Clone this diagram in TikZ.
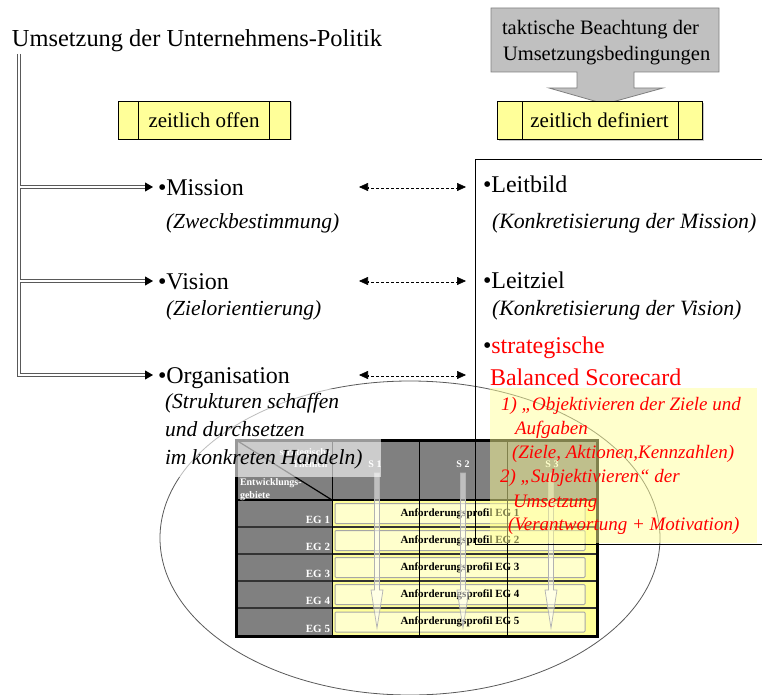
\documentclass[tikz,border=0pt]{standalone}
\usepackage{fontspec}
\setmainfont{Liberation Serif}
\usetikzlibrary{arrows.meta,calc,shadows}

\definecolor{boxyellow}{HTML}{FFFF99}
\definecolor{paleyellow}{HTML}{FFFFCC}
\definecolor{cellgray}{HTML}{808080}
\definecolor{calloutgray}{HTML}{C0C0C0}
\definecolor{scarlet}{HTML}{FF0000}
\newcommand{\fsz}[1]{\fontsize{#1}{#1}\selectfont}

\begin{document}
\begin{tikzpicture}[x=1pt,y=-1pt,
  every node/.style={inner sep=0pt, outer sep=0pt},
  txt/.style={anchor=base west, font=\fsz{24}, text height=16pt, text depth=0pt},
  note/.style={anchor=base west, font=\fsz{21.5}\itshape},
  rednote/.style={anchor=base west, font=\fsz{19}\itshape, text=scarlet},
  rail/.style={draw=black!65, line width=0.8pt},
  spine/.style={draw=black!65, line width=0.8pt, double=white, double distance=2.2pt},
  feedtip/.style={-{Triangle[length=8pt,width=9pt]}, line width=0.8pt},
  linkdash/.style={draw=black, line width=0.6pt, dash pattern=on 3pt off 2pt, double=white, double distance=1.8pt},
  linktip/.style={-{Triangle[length=9pt,width=8pt]}, line width=0.6pt},
  timebox/.style={draw=black, line width=0.8pt, fill=boxyellow, font=\fsz{21},
    minimum height=38pt, drop shadow={shadow xshift=1.5pt, shadow yshift=-1.5pt, fill=gray!45, opacity=1}},
  profbox/.style={draw=gray!70, line width=1pt, fill=paleyellow, rounded corners=1pt,
    minimum width=250pt, minimum height=20pt, font=\bfseries\fsz{11}},
  eglabel/.style={anchor=base east, text=white, font=\bfseries\fsz{11}},
  hdr/.style={anchor=base, text=white, font=\bfseries\fsz{10}},
  flowarrow/.style={draw=gray!60, fill=white, fill opacity=0.5, line width=0.7pt},
]
\useasboundingbox (0,0) rectangle (762,695);

% ---------- callout: tactical conditions
\draw[fill=calloutgray, draw=black!50, line width=0.8pt]
  (491,8) -- (719,8) -- (719,72) -- (634,72) -- (634,88) -- (663,88) -- (605,104)
  -- (549,88) -- (577,88) -- (577,72) -- (491,72) -- cycle;
\node[anchor=base west, font=\fsz{20.5}] (tact1) at (502,35) {taktische Beachtung der};
\node[anchor=base west, font=\fsz{20.5}] (tact2) at (503,61) {Umsetzungsbedingungen};

% ---------- time boxes
\node[timebox, minimum width=172pt] (offen) at (204,120) {zeitlich offen};
\draw[line width=0.8pt] ([xshift=20pt]offen.north west) -- ([xshift=20pt]offen.south west);
\draw[line width=0.8pt] ([xshift=-21pt]offen.north east) -- ([xshift=-21pt]offen.south east);
\node[timebox, minimum width=205pt] (definiert) at (599.5,120.5) {zeitlich definiert};
\draw[line width=0.8pt] ([xshift=25pt]definiert.north west) -- ([xshift=25pt]definiert.south west);
\draw[line width=0.8pt] ([xshift=-24pt]definiert.north east) -- ([xshift=-24pt]definiert.south east);

% ---------- left column
\node[txt, font=\fsz{24.4}] (title) at (12,47) {Umsetzung der Unternehmens-Politik};
\node[txt] (mission) at (158,195) {•Mission};
\node[note] (missionN) at (166,228) {(Zweckbestimmung)};
\node[txt] (vision) at (158,289) {•Vision};
\node[note] (visionN) at (166,315) {(Zielorientierung)};
\node[txt] (organisation) at (158,383) {•Organisation};

% spine: two parallel rails with branches
\coordinate (railA) at (17,54);
\coordinate (railB) at (20,54);
\draw[rail] (railA) -- ($(railA |- organisation.west)+(0,1.5)$) -- ($(organisation.west)+(-11,1.5)$);
\draw[rail] (railB) -- ($(railB |- mission.west)+(0,-1.5)$);
\foreach \n/\m in {mission/vision, vision/organisation}
  \draw[rail] ($(railB |- \n.west)+(0,1.5)$) -- ($(railB |- \m.west)+(0,-1.5)$);
\foreach \n in {mission,vision}
  \draw[rail] ($(railB |- \n.west)+(0,-1.5)$) -- ($(\n.west)+(-11,-1.5)$)
              ($(railB |- \n.west)+(0,1.5)$) -- ($(\n.west)+(-11,1.5)$);
\draw[rail] ($(railB |- organisation.west)+(0,-1.5)$) -- ($(organisation.west)+(-11,-1.5)$);
\foreach \n in {mission,vision,organisation}
  \draw[feedtip] ($(\n.west)+(-13,0)$) -- ($(\n.west)+(-5,0)$);

% ---------- right column texts
\node[txt] (leitbild) at (483,193) {•Leitbild};
\node[note, font=\fsz{21.8}\itshape] (leitbildN) at (492,228) {(Konkretisierung der Mission)};
\node[txt] (leitziel) at (483,288) {•Leitziel};
\node[note, font=\fsz{21.8}\itshape] (leitzielN) at (492,315) {(Konkretisierung der Vision)};
\node[txt] (bsc1) at (483,353) {•\textcolor{scarlet}{strategische}};
\node[txt, text=scarlet] (bsc2) at (490,385) {Balanced Scorecard};

% dashed correspondences
\coordinate (lnkL) at (359,0);
\coordinate (lnkR) at (466,0);
\foreach \n in {mission,vision,organisation} {
  \draw[linkdash] ($(lnkL |- \n.west)+(7,0)$) -- ($(lnkR |- \n.west)+(-7,0)$);
  \draw[linktip] ($(lnkL |- \n.west)+(9,0)$) -- (lnkL |- \n.west);
  \draw[linktip] ($(lnkR |- \n.west)+(-9,0)$) -- (lnkR |- \n.west);
}

% ---------- ellipse
\draw[draw=black!65, line width=0.8pt] (410,538) ellipse [x radius=250pt, y radius=157pt];

% ---------- matrix of development areas
\fill[cellgray] (236,440) rectangle (597,636);
\fill[boxyellow] (332,500) rectangle (597,636);
\foreach \i/\t/\b in {1/500/527, 2/527/554, 3/554/581, 4/581/608, 5/608/636} {
  \node[profbox] (prof\i) at (460,{(\t+\b)/2}) {Anforderungsprofil EG \i};
  \node[eglabel] (eg\i) at (330,\b-4) {EG \i};
}
\foreach \b in {527,554,581,608}
  \draw[black!80, line width=1.2pt] (236,\b) -- (597,\b);
\foreach \x in {332,419,507}
  \draw[black, line width=0.8pt] (\x,440) -- (\x,636);
\draw[black, line width=2pt] (236,500) -- (597,500);
\draw[black, line width=1.2pt] (236,440) -- (332,500);
\node[hdr] (them1) at (305,455) {strategische};
\node[hdr] (them2) at (310,467) {Themen};
\node[hdr, anchor=base west] (entw1) at (240,485) {Entwicklungs-};
\node[hdr, anchor=base west] (entw2) at (240,498) {gebiete};
\node[hdr] (s1) at (375,467) {S 1};
\node[hdr] (s2) at (463,467) {S 2};
\node[hdr] (s3) at (552,467) {S 3};
\foreach \x in {377,463,551}
  \draw[flowarrow] (\x-2.5,473) -- (\x-2.5,590) -- (\x-6,590) -- (\x,628)
    -- (\x+6,590) -- (\x+2.5,590) -- (\x+2.5,473) -- cycle;
\draw[black, line width=3pt] (236,440) rectangle (597,636);

% ---------- organisation note on a translucent ground
\fill[white, fill opacity=0.6] (160,389) rectangle (381,477);
\node[note] (orgN1) at (165,408) {(Strukturen schaffen};
\node[note] (orgN2) at (165,436) {und durchsetzen};
\node[note] (orgN3) at (165,464) {im konkreten Handeln)};

% ---------- right panel frame
\draw[black, line width=0.8pt] (770,159) -- (475,159) -- (475,544) -- (770,544);

% ---------- balanced scorecard note
\fill[boxyellow, fill opacity=0.5] (490,388) rectangle (757,543);
\node[rednote] (obj1) at (501,410) {1) „Objektivieren der Ziele und};
\node[rednote] (obj2) at (515,434) {Aufgaben};
\node[rednote] (obj3) at (512,458) {(Ziele, Aktionen,Kennzahlen)};
\node[rednote] (sub1) at (500,482) {2) „Subjektivieren“ der};
\node[rednote] (sub2) at (513,507) {Umsetzung};
\node[rednote] (sub3) at (508,530) {(Verantwortung + Motivation)};
\end{tikzpicture}
\end{document}
